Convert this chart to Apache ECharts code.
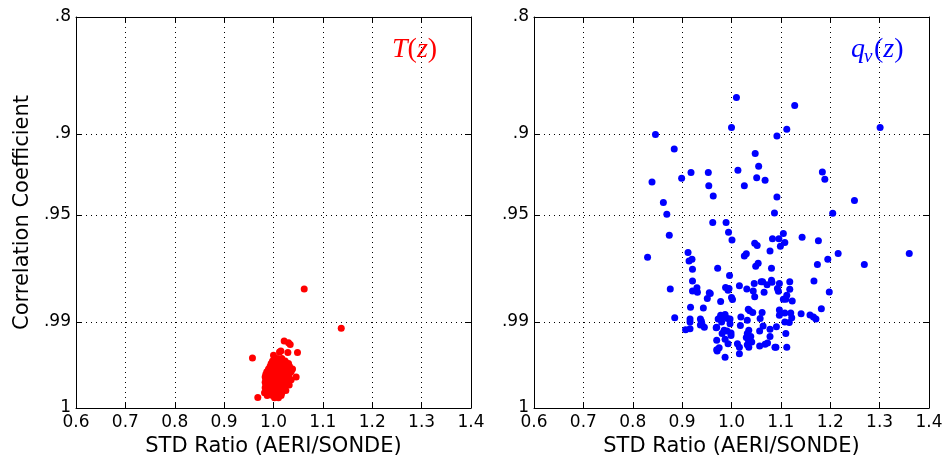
<!DOCTYPE html>
<html>
<head>
<meta charset="utf-8">
<script src="https://cdn.jsdelivr.net/npm/echarts@6/dist/echarts.min.js"></script>
<style>
html,body{margin:0;padding:0;background:#fff}
#main{width:948px;height:463px}
</style>
</head>
<body>
<div id="main"></div>
<script>
// correlation coefficient ticks (axis is drawn on an arccos scale)
var corrTicks = [1, 0.99, 0.95, 0.9, 0.8];
var corrLabels = ['1', '.99', '.95', '.9', '.8'];
var ratioMin = 0.6, ratioMax = 1.4, ratioStep = 0.1;

// T(z): [std ratio, correlation]
var tPoints = [
  [1.0622,0.9809],[1.1372,0.9914],[0.9574,0.9966],[0.9682,0.99985],
  [1.0216,0.99391],[1.0304,0.99426],[1.0338,0.99455],[1.0000,0.99623],
  [1.0122,0.99574],[1.0149,0.99559],[1.0291,0.99584],[1.0486,0.99584],
  [1.0088,0.99669],[1.0169,0.99669],
  [0.9980,0.99700],[1.0068,0.99700],[1.0135,0.99700],[1.0236,0.99700],
  [0.9953,0.99733],[1.0034,0.99733],[1.0115,0.99733],[1.0203,0.99733],[1.0304,0.99733],
  [0.9932,0.99764],[1.0020,0.99764],[1.0088,0.99764],[1.0169,0.99764],[1.0250,0.99764],[1.0324,0.99764],
  [0.9899,0.99793],[0.9980,0.99793],[1.0061,0.99793],[1.0142,0.99793],[1.0223,0.99793],[1.0291,0.99793],[1.0385,0.99793],
  [0.9865,0.99821],[0.9953,0.99821],[1.0034,0.99821],[1.0101,0.99821],[1.0182,0.99821],[1.0270,0.99821],[1.0358,0.99821],
  [0.9845,0.99846],[0.9926,0.99846],[1.0007,0.99846],[1.0074,0.99846],[1.0155,0.99846],[1.0236,0.99846],[1.0318,0.99846],
  [0.9831,0.99869],[0.9912,0.99869],[0.9980,0.99869],[1.0047,0.99869],[1.0128,0.99869],[1.0209,0.99869],[1.0291,0.99869],[1.0459,0.99869],
  [0.9845,0.99891],[0.9932,0.99891],[1.0000,0.99891],[1.0068,0.99891],[1.0142,0.99891],[1.0223,0.99891],[1.0358,0.99891],
  [0.9831,0.99910],[0.9899,0.99910],[0.9980,0.99910],[1.0047,0.99910],[1.0115,0.99910],[1.0196,0.99910],[1.0291,0.99910],
  [0.9845,0.99928],[0.9926,0.99928],[1.0007,0.99928],[1.0074,0.99928],[1.0155,0.99928],[1.0236,0.99928],[1.0318,0.99928],
  [0.9831,0.99944],[0.9912,0.99944],[0.9993,0.99944],[1.0061,0.99944],[1.0128,0.99944],[1.0209,0.99944],
  [0.9865,0.99958],[0.9953,0.99958],[1.0034,0.99958],[1.0101,0.99958],[1.0182,0.99958],[1.0250,0.99958],
  [0.9818,0.99969],[0.9899,0.99969],[1.0000,0.99969],[1.0088,0.99969],[1.0169,0.99969],
  [0.9872,0.99979],[0.9980,0.99979],[1.0068,0.99979],[1.0155,0.99979],
  [1.0020,0.99986],[1.0101,0.99986]
];

// qv(z): [std ratio, correlation]
var qPoints = [
  [1.010,0.8723],[1.128,0.8786],[1.000,0.8954],[1.112,0.8966],[1.301,0.8954],
  [0.846,0.9004],[1.092,0.9014],[0.884,0.9105],[1.048,0.9136],[1.055,0.9219],
  [0.918,0.9259],[0.953,0.9259],[1.013,0.9244],[1.184,0.9255],[0.839,0.9316],
  [0.899,0.9294],[0.954,0.9338],[1.026,0.9338],[1.051,0.9290],[1.068,0.9306],
  [1.189,0.9300],[0.963,0.9397],[1.092,0.9403],[0.862,0.9434],[1.249,0.9422],
  [0.869,0.9496],[1.087,0.9489],[1.205,0.9491],[0.962,0.9537],[0.989,0.9537],
  [0.994,0.9585],[1.001,0.9620],[0.874,0.9599],[1.105,0.9590],[1.083,0.9614],
  [1.096,0.9614],[1.143,0.9608],[1.176,0.9623],[1.047,0.9635],[1.052,0.9645],
  [1.108,0.9631],[1.099,0.9648],[1.078,0.9668],[0.912,0.9674],[0.830,0.9694],
  [1.026,0.9689],[1.030,0.9679],[1.216,0.9678],[1.360,0.9678],[0.914,0.9709],
  [0.920,0.9702],[1.195,0.9702],[1.054,0.9718],[1.049,0.9729],[1.174,0.9722],
  [1.269,0.9722],[0.921,0.9740],[0.972,0.9737],[1.081,0.9737],[0.996,0.9763],
  [0.921,0.9782],[1.167,0.9782],[1.016,0.9798],[1.031,0.9809],[0.988,0.9804],
  [0.993,0.9813],[0.995,0.9807],[1.044,0.9815],[1.046,0.9791],[1.060,0.9785],
  [1.063,0.9785],[1.072,0.9795],[1.066,0.9819],[1.081,0.9780],[1.082,0.9787],
  [1.093,0.9807],[1.095,0.9816],[1.097,0.9791],[1.118,0.9785],[1.118,0.9810],
  [1.112,0.9828],[1.105,0.9840],[1.110,0.9840],[1.123,0.9845],[1.047,0.9833],
  [0.978,0.9847],[1.000,0.9835],[1.002,0.9841],[1.034,0.9868],[1.037,0.9872],
  [1.043,0.9877],[1.062,0.9877],[1.097,0.9870],[1.108,0.9878],[1.120,0.9878],
  [1.122,0.9890],[1.141,0.9880],[1.159,0.9883],[1.166,0.9888],[1.171,0.9893],
  [1.019,0.9888],[1.032,0.9896],[1.058,0.9892],[1.097,0.9884],[1.108,0.9900],
  [1.117,0.9901],[0.978,0.9884],[0.983,0.9888],[0.987,0.9882],[0.992,0.9892],
  [0.997,0.9893],[0.973,0.9893],[0.980,0.9900],[0.997,0.9904],[1.018,0.9908],
  [0.970,0.9912],[0.985,0.9918],[0.991,0.9920],[0.981,0.9925],[0.999,0.9924],
  [0.999,0.9929],[1.035,0.9918],[1.032,0.9925],[1.057,0.9920],[1.064,0.9909],
  [1.078,0.9916],[1.091,0.9911],[1.078,0.9931],[1.039,0.9931],[1.030,0.9933],
  [1.034,0.9937],[1.041,0.9941],[0.987,0.9936],[0.970,0.9938],[0.993,0.9944],
  [1.012,0.9944],[1.016,0.9950],[1.032,0.9946],[1.035,0.9950],[1.057,0.9948],
  [1.068,0.9945],[1.073,0.9943],[1.088,0.9950],[1.090,0.9950],[1.112,0.9950],
  [0.975,0.9951],[0.970,0.9954],[1.016,0.9960],[0.987,0.9965],[1.110,0.9925],
  [0.876,0.9809],[0.921,0.9815],[0.930,0.9805],[0.931,0.9819],[0.955,0.9821],
  [0.957,0.9823],[0.951,0.9838],[0.917,0.9863],[0.943,0.9865],[0.885,0.9890],
  [0.916,0.9893],[0.916,0.9900],[0.907,0.9917],[0.916,0.9915],[0.937,0.9893],
  [0.939,0.9898],[0.937,0.9907],[0.940,0.9904],[0.945,0.9912],[0.969,0.9913],
  [0.971,0.9956],[1.198,0.9818],[1.182,0.9867]
];

function toY(r) { return Math.acos(Math.min(1, r)); }
var yTicks = corrTicks.map(toY);
var yMax = toY(0.8);

function corrFmt(v) {
  for (var i = 0; i < yTicks.length; i++) {
    if (Math.abs(yTicks[i] - v) < 1e-6) return corrLabels[i];
  }
  return '';
}

var font = 'DejaVu Sans';
var dotted = {color: '#000', type: [1, 4], width: 1};

function xAx(grid, pos, main) {
  return {
    type: 'value', gridIndex: grid, position: pos,
    min: ratioMin, max: ratioMax, interval: ratioStep,
    axisLine: {show: true, onZero: false, lineStyle: {color: '#000', width: 1}},
    axisTick: {show: true, inside: true, length: 6, lineStyle: {color: '#000'}},
    axisLabel: {show: main, margin: 6, fontSize: 17, color: '#000', fontFamily: font,
      showMinLabel: true, showMaxLabel: true,
      formatter: function (v) { return v.toFixed(1); }},
    splitLine: {show: main, lineStyle: dotted},
    name: main ? 'STD Ratio (AERI/SONDE)' : '',
    nameLocation: 'middle', nameGap: 28,
    nameTextStyle: {fontSize: 21, color: '#000', fontFamily: font}
  };
}

function yAx(grid, pos, main, title) {
  return {
    type: 'value', gridIndex: grid, position: pos,
    min: 0, max: yMax,
    axisLine: {show: true, onZero: false, lineStyle: {color: '#000', width: 1}},
    axisTick: {show: true, inside: true, length: 6, customValues: yTicks, lineStyle: {color: '#000'}},
    axisLabel: {show: main, margin: 5, fontSize: 17, color: '#000', fontFamily: font,
      customValues: yTicks, formatter: corrFmt},
    splitLine: {show: main, lineStyle: dotted},
    name: title ? 'Correlation Coefficient' : '',
    nameLocation: 'middle', nameGap: 43,
    nameTextStyle: {fontSize: 21, color: '#000', fontFamily: font}
  };
}

var chart = echarts.init(document.getElementById('main'));
chart.setOption({
  backgroundColor: '#fff',
  animation: false,
  grid: [
    {left: 76, top: 17, width: 395, height: 391},
    {left: 534, top: 17, width: 395, height: 391}
  ],
  xAxis: [xAx(0, 'bottom', true), xAx(0, 'top', false), xAx(1, 'bottom', true), xAx(1, 'top', false)],
  yAxis: [yAx(0, 'left', true, true), yAx(0, 'right', false, false), yAx(1, 'left', true, false), yAx(1, 'right', false, false)],
  series: [
    {
      type: 'scatter', xAxisIndex: 0, yAxisIndex: 0, symbolSize: 7,
      itemStyle: {color: '#ff0000', opacity: 1},
      data: tPoints.map(function (p) { return [p[0], toY(p[1])]; })
    },
    {
      type: 'scatter', xAxisIndex: 2, yAxisIndex: 2, symbolSize: 7,
      itemStyle: {color: '#0000ff', opacity: 1},
      data: qPoints.map(function (p) { return [p[0], toY(p[1])]; })
    }
  ],
  graphic: [
    {
      type: 'text', x: 392, y: 50,
      style: {
        text: '{i|T}{n|(}{i|z}{n|)}', verticalAlign: 'middle',
        rich: {
          i: {fontFamily: 'Liberation Serif', fontStyle: 'italic', fontSize: 28, fill: '#ff0000'},
          n: {fontFamily: 'Liberation Serif', fontSize: 28, fill: '#ff0000'}
        }
      }
    },
    {
      type: 'text', x: 851, y: 50,
      style: {text: 'q', fontFamily: 'Liberation Serif', fontStyle: 'italic', fontSize: 28, fill: '#0000ff', verticalAlign: 'middle'}
    },
    {
      type: 'text', x: 864, y: 57,
      style: {text: 'v', fontFamily: 'Liberation Serif', fontStyle: 'italic', fontSize: 19, fill: '#0000ff', verticalAlign: 'middle'}
    },
    {
      type: 'text', x: 874, y: 50,
      style: {
        text: '{n|(}{i|z}{n|)}', verticalAlign: 'middle',
        rich: {
          i: {fontFamily: 'Liberation Serif', fontStyle: 'italic', fontSize: 28, fill: '#0000ff'},
          n: {fontFamily: 'Liberation Serif', fontSize: 28, fill: '#0000ff'}
        }
      }
    }
  ]
});
</script>
</body>
</html>
